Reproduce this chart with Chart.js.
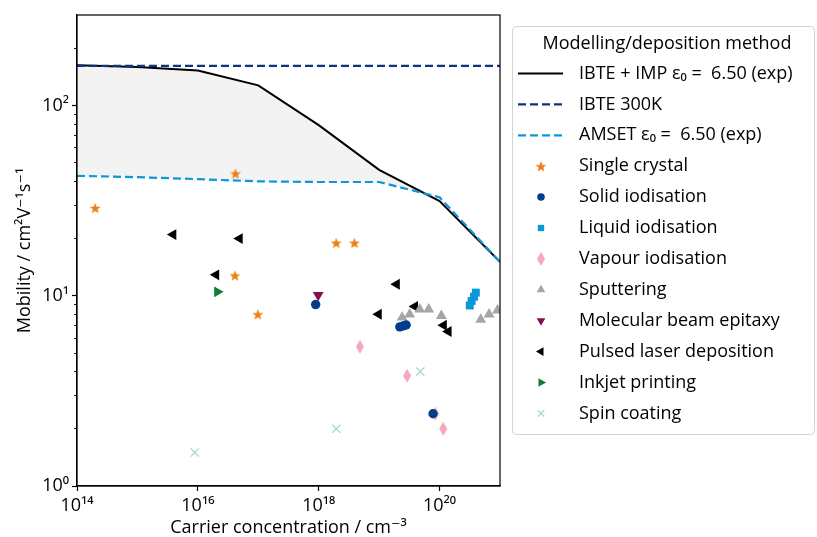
<!DOCTYPE html>
<html>
<head>
<meta charset="utf-8">
<script src="https://cdn.jsdelivr.net/npm/chart.js@4/dist/chart.umd.min.js"></script>
<style>
  body { margin: 0; background: #fff; }
  #chart { display: block; }
</style>
</head>
<body>
<canvas id="chart" width="817" height="537"></canvas>
<script>
// model curves (x = carrier concentration in cm^-3, y = mobility)
const decadeX = [1e14, 1e15, 1e16, 1e17, 1e18, 1e19, 1e20, 1e21];
const ibteImpMobility = [163, 160, 153, 128, 79, 46, 31.5, 15.1];
const amsetMobility = [42.8, 42.1, 41.1, 40.0, 39.7, 39.7, 33.0, 15.1];
const ibte300X = [1e14, 1e21];
const ibte300Mobility = [162, 162];

// experimental points
const singleCrystalX = [2.0e14, 4.2e16, 4.1e16, 9.8e16, 1.95e18, 3.9e18];
const singleCrystalY = [29, 44, 12.8, 8.0, 19, 19];
const solidX = [8.9e17, 2.2e19, 2.5e19, 2.8e19, 7.8e19];
const solidY = [9.0, 6.87, 6.95, 7.03, 2.4];
const liquidX = [3.16e20, 3.39e20, 3.72e20, 3.98e20];
const liquidY = [8.9, 9.4, 9.9, 10.4];
const vapourX = [4.8e18, 2.9e19, 8.5e19, 1.15e20];
const vapourY = [5.4, 3.8, 2.4, 2.0];
const sputterX = [2.4e19, 3.2e19, 4.7e19, 6.6e19, 1.07e20, 4.8e20, 6.6e20, 9.1e20];
const sputterY = [7.7, 8.0, 8.5, 8.5, 7.85, 7.5, 8.0, 8.4];
const mbeX = [9.8e17];
const mbeY = [10.1];
const pldX = [3.9e15, 2.0e16, 4.9e16, 9.8e18, 1.95e19, 3.9e19, 1.17e20, 1.4e20];
const pldY = [21, 12.9, 20, 8.0, 11.5, 8.8, 7.0, 6.5];
const inkjetX = [2.1e16];
const inkjetY = [10.5];
const spinX = [8.9e15, 1.95e18, 4.8e19];
const spinY = [1.5, 2.0, 4.0];

// axes
const xMajorTicks = [1e14, 1e16, 1e18, 1e20];
const yMajorTicks = [1, 10, 100];
const yMinorTicks = [2, 3, 4, 5, 6, 7, 8, 9, 20, 30, 40, 50, 60, 70, 80, 90, 200];
const legendTitle = 'Modelling/deposition method';

const FONT = '"Open Sans", "DejaVu Sans", sans-serif';

function pts(xs, ys) {
    return xs.map((x, i) => ({ x: x, y: ys[i] }));
}

const SUP = { '0': '⁰', '1': '¹', '2': '²', '3': '³', '4': '⁴', '5': '⁵', '6': '⁶', '7': '⁷', '8': '⁸', '9': '⁹', '-': '⁻' };
function powLabel(v) {
    const e = String(Math.round(Math.log10(v)));
    return '10' + e.split('').map(c => SUP[c]).join('');
}

function starImage(color, r) {
    const s = Math.ceil(r * 2 + 2);
    const c = document.createElement('canvas');
    c.width = s; c.height = s;
    const g = c.getContext('2d');
    g.beginPath();
    for (let k = 0; k < 10; k++) {
        const rr = k % 2 ? r * 0.42 : r;
        const a = -Math.PI / 2 + k * Math.PI / 5;
        const px = s / 2 + rr * Math.cos(a), py = s / 2 + 0.6 + rr * Math.sin(a);
        if (k) g.lineTo(px, py); else g.moveTo(px, py);
    }
    g.closePath();
    g.fillStyle = color;
    g.fill();
    return c;
}

function diamondImage(color, w, h) {
    const c = document.createElement('canvas');
    c.width = w + 2; c.height = h + 2;
    const g = c.getContext('2d');
    const cx = (w + 2) / 2, cy = (h + 2) / 2;
    g.beginPath();
    g.moveTo(cx, cy - h / 2);
    g.lineTo(cx + w / 2, cy);
    g.lineTo(cx, cy + h / 2);
    g.lineTo(cx - w / 2, cy);
    g.closePath();
    g.fillStyle = color;
    g.fill();
    return c;
}

function markerSet(label, xs, ys, color, style, radius, rotation) {
    return {
        label: label,
        data: pts(xs, ys),
        showLine: false,
        pointStyle: style,
        pointRadius: radius,
        pointRotation: rotation || 0,
        pointBackgroundColor: color,
        pointBorderColor: color,
        pointBorderWidth: style === 'crossRot' ? 1.2 : 0,
        borderColor: color,
        backgroundColor: color,
        order: 0
    };
}

const datasets = [
    {
        label: 'IBTE + IMP ε₀ =  6.50 (exp)',
        data: pts(decadeX, ibteImpMobility),
        showLine: true,
        borderColor: '#000000',
        borderWidth: 2,
        pointRadius: 0,
        tension: 0,
        fill: { target: 2, above: '#f3f3f3', below: '#f3f3f3' },
        order: 3
    },
    {
        label: 'IBTE 300K',
        data: pts(ibte300X, ibte300Mobility),
        showLine: true,
        borderColor: '#0a3482',
        borderWidth: 2.2,
        borderDash: [8, 4],
        pointRadius: 0,
        fill: false,
        order: 2
    },
    {
        label: 'AMSET ε₀ =  6.50 (exp)',
        data: pts(decadeX, amsetMobility),
        showLine: true,
        borderColor: '#0d96d8',
        borderWidth: 2.2,
        borderDash: [8, 4],
        pointRadius: 0,
        fill: false,
        order: 1
    },
    markerSet('Single crystal', singleCrystalX, singleCrystalY, '#f07f12', starImage('#f07f12', 5.8), 5),
    markerSet('Solid iodisation', solidX, solidY, '#023d8c', 'circle', 4.7),
    markerSet('Liquid iodisation', liquidX, liquidY, '#0898d8', 'rect', 5.6),
    markerSet('Vapour iodisation', vapourX, vapourY, '#f4a8ba', diamondImage('#f4a8ba', 8, 14), 6),
    markerSet('Sputtering', sputterX, sputterY, '#a3a6a9', 'triangle', 6.3),
    markerSet('Molecular beam epitaxy', mbeX, mbeY, '#8c0c52', 'triangle', 6.3, 180),
    markerSet('Pulsed laser deposition', pldX, pldY, '#000000', 'triangle', 6.3, 270),
    markerSet('Inkjet printing', inkjetX, inkjetY, '#127c38', 'triangle', 6.3, 90),
    markerSet('Spin coating', spinX, spinY, '#9ad6c2', 'crossRot', 5.8)
];

// legend drawn in a framed box to the right of the plot
const boxLegend = {
    id: 'boxLegend',
    afterDraw(chart) {
        const ctx = chart.ctx;
        ctx.save();
        ctx.beginPath();
        ctx.roundRect(512.5, 26.5, 302, 408, 4);
        ctx.fillStyle = 'rgba(255,255,255,0.85)';
        ctx.fill();
        ctx.strokeStyle = '#d4d4d4';
        ctx.lineWidth = 1;
        ctx.stroke();

        ctx.fillStyle = '#000';
        ctx.font = '18px ' + FONT;
        ctx.textBaseline = 'middle';
        ctx.textAlign = 'center';
        ctx.fillText(legendTitle, 667, 44);

        ctx.textAlign = 'left';
        chart.data.datasets.forEach((ds, i) => {
            const y = 73.5 + i * 30.9;
            if (ds.showLine) {
                ctx.save();
                ctx.strokeStyle = ds.borderColor;
                ctx.lineWidth = ds.borderWidth;
                ctx.setLineDash(ds.borderDash || []);
                ctx.beginPath();
                ctx.moveTo(518, y);
                ctx.lineTo(563, y);
                ctx.stroke();
                ctx.restore();
            } else {
                ctx.save();
                ctx.fillStyle = ds.pointBackgroundColor;
                ctx.strokeStyle = ds.pointBorderColor;
                ctx.lineWidth = ds.pointBorderWidth;
                Chart.helpers.drawPoint(ctx, {
                    pointStyle: ds.pointStyle,
                    rotation: ds.pointRotation,
                    radius: ds.pointRadius * 0.8,
                    borderWidth: ds.pointBorderWidth
                }, 541, y);
                ctx.restore();
            }
            ctx.fillStyle = '#000';
            ctx.fillText(ds.label, 579, y);
        });
        ctx.restore();
    }
};

// top and right spines
const frame = {
    id: 'frame',
    afterDraw(chart) {
        const a = chart.chartArea;
        const ctx = chart.ctx;
        ctx.save();
        ctx.strokeStyle = '#000';
        ctx.lineWidth = 1.2;
        ctx.strokeRect(a.left, a.top, a.right - a.left, a.bottom - a.top);
        ctx.restore();
    }
};

new Chart(document.getElementById('chart'), {
    type: 'line',
    data: { datasets: datasets },
    options: {
        responsive: false,
        animation: false,
        layout: { padding: { top: 15, right: 317, bottom: 0, left: 0 } },
        plugins: {
            legend: { display: false },
            tooltip: { enabled: false }
        },
        scales: {
            x: {
                type: 'logarithmic',
                min: 1e14,
                max: 1e21,
                afterBuildTicks: s => { s.ticks = xMajorTicks.map(v => ({ value: v })); },
                afterFit: s => { s.height = 51; },
                ticks: {
                    callback: v => powLabel(v),
                    font: { family: FONT, size: 18 },
                    color: '#000',
                    padding: 4,
                    maxRotation: 0,
                    autoSkip: false
                },
                grid: { drawOnChartArea: false, tickLength: 5, tickColor: '#000', tickWidth: 1.2 },
                border: { color: '#000', width: 1.2 },
                title: {
                    display: true,
                    text: 'Carrier concentration / cm⁻³',
                    font: { family: FONT, size: 18 },
                    color: '#000',
                    padding: { top: 0, bottom: -2 }
                }
            },
            y: {
                type: 'logarithmic',
                position: 'left',
                weight: 1,
                min: 1,
                max: 300,
                afterBuildTicks: s => { s.ticks = yMajorTicks.map(v => ({ value: v })); },
                afterFit: s => { s.width = 77; },
                ticks: {
                    callback: v => powLabel(v),
                    font: { family: FONT, size: 18 },
                    color: '#000',
                    padding: 3,
                    autoSkip: false
                },
                grid: { drawOnChartArea: false, tickLength: 5, tickColor: '#000', tickWidth: 1.2 },
                border: { color: '#000', width: 1.2 },
                title: {
                    display: true,
                    text: 'Mobility / cm²V⁻¹s⁻¹',
                    font: { family: FONT, size: 18 },
                    color: '#000',
                    padding: { top: 14, bottom: 0 }
                }
            },
            yMinor: {
                type: 'logarithmic',
                position: 'left',
                weight: 0,
                min: 1,
                max: 300,
                afterBuildTicks: s => { s.ticks = yMinorTicks.map(v => ({ value: v })); },
                afterFit: s => { s.width = 0; },
                ticks: { display: false },
                grid: { drawOnChartArea: false, tickLength: 3, tickColor: '#000', tickWidth: 0.9 },
                border: { display: false }
            }
        }
    },
    plugins: [boxLegend, frame]
});
</script>
</body>
</html>
